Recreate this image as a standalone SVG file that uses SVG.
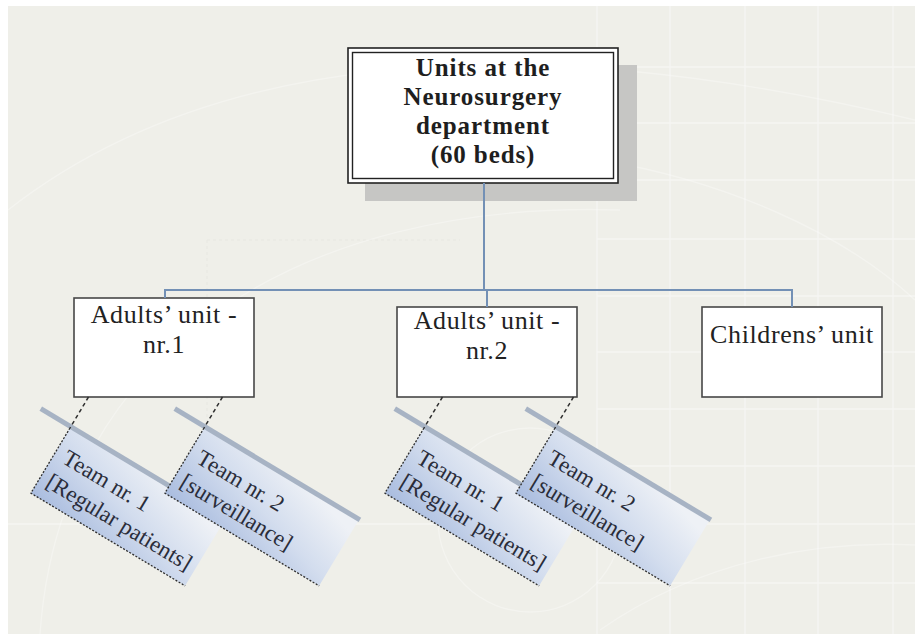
<svg xmlns="http://www.w3.org/2000/svg" width="915" height="634" viewBox="0 0 915 634">
  <defs>
    <style>
      .bg-line { stroke: #f6f6f2; stroke-width: 1.4; fill: none; }
      .bg-arc { stroke: #ffffff; stroke-opacity: 0.3; stroke-width: 1.4; fill: none; }
      .head-text { font-family: "Liberation Serif", "Times New Roman", serif; font-weight: bold; font-size: 25px; letter-spacing: 0.9px; fill: #1e1e1e; text-anchor: middle; }
      .unit-box { fill: #ffffff; stroke: #474747; stroke-width: 1.6; }
      .unit-text { font-family: "Liberation Serif", "Times New Roman", serif; font-size: 26px; letter-spacing: 0.6px; fill: #222222; text-anchor: middle; }
      .team-face { fill: url(#teamFill); }
      .team-bar { stroke: #a7b3c4; stroke-width: 5; fill: none; }
      .team-edge { stroke: #2e2e2e; stroke-width: 1.3; stroke-dasharray: 2 1.6; fill: none; }
      .team-text { font-family: "Liberation Serif", "Times New Roman", serif; font-size: 23px; fill: #2a2d3a; }
      .tree-link { stroke: #7390b5; stroke-width: 2; fill: none; }
      .team-link { stroke: #2e2e2e; stroke-width: 1.5; stroke-dasharray: 4 3; fill: none; }
    </style>
    <linearGradient id="teamFill" x1="0" y1="1" x2="0.75" y2="0">
      <stop offset="0" stop-color="#a9bcdf"/>
      <stop offset="0.55" stop-color="#d3ddee"/>
      <stop offset="1" stop-color="#eef1f6"/>
    </linearGradient>
  </defs>

  <!-- page background -->
  <rect x="0" y="0" width="915" height="634" fill="#ffffff"/>
  <rect x="8" y="6" width="907" height="628" fill="#efefe9"/>

  <!-- faint backdrop grid and arcs -->
  <g id="backdrop">
    <path class="bg-line" d="M597 6V634 M670 6V634 M745 6V634 M818 6V634 M893 6V634"/>
    <path class="bg-line" d="M597 67H915 M597 123H915 M597 180H915 M597 239H915 M597 296H915 M597 352H915 M597 409H915 M597 466H915 M8 524H915 M597 583H915"/>
    <path d="M207 240H460 M207 240V520" stroke="#e7e7e1" stroke-width="1" stroke-dasharray="3 3" fill="none"/>
    <circle class="bg-arc" cx="530" cy="520" r="92"/>
    <path class="bg-arc" d="M8 210 C 200 60, 500 20, 915 120"/>
    <path class="bg-arc" d="M40 634 C 60 350, 300 200, 620 210"/>
    <path class="bg-arc" d="M600 160 C 720 180, 840 230, 915 300"/>
    <path class="bg-arc" d="M600 630 C 700 560, 820 540, 915 545"/>
  </g>

  <!-- top node -->
  <g id="department">
    <rect x="365" y="65" width="272" height="136" fill="#c6c6c4"/>
    <rect x="348" y="48" width="270" height="135" fill="#ffffff" stroke="#222222" stroke-width="1.6"/>
    <rect x="352.5" y="52.5" width="261" height="126" fill="none" stroke="#222222" stroke-width="1.4"/>
    <text class="head-text" x="483" y="76">Units at the</text>
    <text class="head-text" x="483" y="105">Neurosurgery</text>
    <text class="head-text" x="483" y="134">department</text>
    <text class="head-text" x="483" y="163">(60 beds)</text>
  </g>

  <!-- second level units -->
  <g id="adults-unit-1">
    <rect class="unit-box" x="74" y="298" width="180" height="99"/>
    <text class="unit-text" x="164" y="323">Adults’ unit -</text>
    <text class="unit-text" x="164" y="353">nr.1</text>
  </g>
  <g id="adults-unit-2">
    <rect class="unit-box" x="397" y="307" width="180" height="90"/>
    <text class="unit-text" x="487" y="329">Adults’ unit -</text>
    <text class="unit-text" x="487" y="359">nr.2</text>
  </g>
  <g id="childrens-unit">
    <rect class="unit-box" x="702" y="307" width="180" height="90"/>
    <text class="unit-text" x="792" y="343">Childrens’ unit</text>
  </g>

  <!-- tilted team cards -->
  <g id="team-1-unit-1" transform="translate(70 428) rotate(31)">
    <rect class="team-face" x="0" y="0" width="180" height="76"/>
    <line class="team-bar" x1="-35" y1="-1.5" x2="181" y2="-1.5"/>
    <path class="team-edge" d="M0 0V76H180"/>
    <text class="team-text" x="10" y="34">Team nr. 1</text>
    <text class="team-text" x="8" y="63">[Regular patients]</text>
  </g>
  <g id="team-2-unit-1" transform="translate(204 428) rotate(31)">
    <rect class="team-face" x="0" y="0" width="180" height="76"/>
    <line class="team-bar" x1="-35" y1="-1.5" x2="181" y2="-1.5"/>
    <path class="team-edge" d="M0 0V76H180"/>
    <text class="team-text" x="10" y="34">Team nr. 2</text>
    <text class="team-text" x="8" y="63">[surveillance]</text>
  </g>
  <g id="team-1-unit-2" transform="translate(424 428) rotate(31)">
    <rect class="team-face" x="0" y="0" width="180" height="76"/>
    <line class="team-bar" x1="-35" y1="-1.5" x2="181" y2="-1.5"/>
    <path class="team-edge" d="M0 0V76H180"/>
    <text class="team-text" x="10" y="34">Team nr. 1</text>
    <text class="team-text" x="8" y="63">[Regular patients]</text>
  </g>
  <g id="team-2-unit-2" transform="translate(555 428) rotate(31)">
    <rect class="team-face" x="0" y="0" width="180" height="76"/>
    <line class="team-bar" x1="-35" y1="-1.5" x2="181" y2="-1.5"/>
    <path class="team-edge" d="M0 0V76H180"/>
    <text class="team-text" x="10" y="34">Team nr. 2</text>
    <text class="team-text" x="8" y="63">[surveillance]</text>
  </g>

  <!-- connectors -->
  <g id="connectors">
    <path class="tree-link" d="M484 183V290"/>
    <path class="tree-link" d="M165 298V290H792V307"/>
    <path class="tree-link" d="M487 290V307"/>
    <path class="team-link" d="M88.5 397L70 428"/>
    <path class="team-link" d="M222.5 397L204 428"/>
    <path class="team-link" d="M442.5 397L424 428"/>
    <path class="team-link" d="M573.5 397L555 428"/>
  </g>
</svg>
